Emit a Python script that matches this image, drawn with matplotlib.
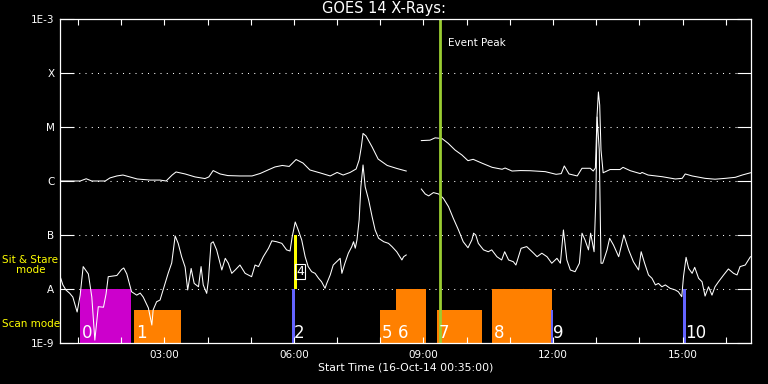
import numpy as np
import matplotlib
matplotlib.use("Agg")
import matplotlib.pyplot as plt
import matplotlib.transforms as mtransforms

# GOES 14 long channel (1-8 A), hours of day / W m^-2
long_t = [0.58, 1.05, 1.19, 1.32, 1.63, 1.74, 1.90, 2.04, 2.20, 2.37, 2.67, 2.90, 3.04, 3.18, 3.27,
          3.48, 3.71, 3.94, 4.03, 4.13, 4.29, 4.47, 4.75, 5.03, 5.22, 5.40, 5.56, 5.73, 5.89, 6.05,
          6.21, 6.37, 6.61, 6.84, 7.00, 7.14, 7.30, 7.44, 7.51, 7.56, 7.60, 7.67, 7.81, 7.95, 8.16,
          8.39, 8.60,
          8.95, 9.15, 9.27, 9.43, 9.57, 9.73, 9.89, 10.03, 10.15, 10.36, 10.59, 10.82, 10.89, 11.05,
          11.24, 11.47, 11.82, 12.07, 12.19, 12.26, 12.37, 12.56, 12.67, 12.86, 12.93, 12.98, 13.02,
          13.05, 13.08, 13.11, 13.16, 13.32, 13.55, 13.62, 13.79, 14.02, 14.06, 14.20, 14.53, 14.83,
          14.99, 15.06, 15.22, 15.52, 15.75, 15.99, 16.22, 16.38, 16.57]
long_f = [1.0e-6, 1.0e-6, 1.10e-6, 1.0e-6, 1.0e-6, 1.14e-6, 1.24e-6, 1.29e-6, 1.19e-6, 1.09e-6,
          1.04e-6, 1.04e-6, 1.0e-6, 1.29e-6, 1.47e-6, 1.35e-6, 1.19e-6, 1.11e-6, 1.19e-6, 1.56e-6,
          1.35e-6, 1.26e-6, 1.24e-6, 1.24e-6, 1.38e-6, 1.60e-6, 1.82e-6, 1.94e-6, 1.86e-6, 2.5e-6,
          2.15e-6, 1.60e-6, 1.41e-6, 1.24e-6, 1.44e-6, 1.29e-6, 1.44e-6, 1.67e-6, 2.45e-6, 4.27e-6,
          7.6e-6, 6.8e-6, 4.27e-6, 2.55e-6, 1.94e-6, 1.70e-6, 1.53e-6,
          5.6e-6, 5.7e-6, 6.3e-6, 6.1e-6, 5.0e-6, 3.75e-6, 3.03e-6, 2.38e-6, 2.52e-6, 2.13e-6,
          1.79e-6, 1.65e-6, 1.74e-6, 1.53e-6, 1.56e-6, 1.55e-6, 1.49e-6, 1.33e-6, 1.37e-6, 1.9e-6,
          1.35e-6, 1.24e-6, 1.72e-6, 1.72e-6, 1.53e-6, 1.74e-6, 1.67e-5, 4.45e-5, 2.55e-5, 3.75e-6,
          1.42e-6, 1.63e-6, 1.63e-6, 1.79e-6, 1.55e-6, 1.37e-6, 1.44e-6, 1.29e-6, 1.2e-6, 1.09e-6,
          1.12e-6, 1.35e-6, 1.24e-6, 1.12e-6, 1.08e-6, 1.12e-6, 1.17e-6, 1.29e-6, 1.42e-6]

# GOES 14 short channel (0.5-4 A)
short_t = [0.60, 0.65, 0.72, 0.81, 0.88, 0.98, 1.05, 1.12, 1.24, 1.32, 1.39, 1.47, 1.59, 1.65, 1.70,
           1.90, 2.01, 2.06, 2.13, 2.24, 2.36, 2.44, 2.51, 2.63, 2.71, 2.74, 2.82, 2.90, 3.02, 3.09,
           3.17, 3.25, 3.32, 3.40, 3.48, 3.54, 3.62, 3.69, 3.79, 3.85, 3.90, 3.98, 4.02, 4.08, 4.13,
           4.21, 4.29, 4.33, 4.41, 4.48, 4.56, 4.64, 4.75, 4.87, 5.02, 5.10, 5.18, 5.29, 5.41, 5.49,
           5.60, 5.72, 5.83, 5.91, 5.96, 6.03, 6.10, 6.18, 6.26, 6.33, 6.41, 6.49, 6.57, 6.64, 6.72,
           6.76, 6.84, 6.91, 6.99, 7.07, 7.11, 7.18, 7.26, 7.34, 7.38, 7.42, 7.46, 7.51, 7.55, 7.60,
           7.65, 7.73, 7.81, 7.88, 7.96, 8.08, 8.19, 8.27, 8.38, 8.50, 8.54, 8.60,
           8.95, 9.04, 9.12, 9.23, 9.35, 9.46, 9.58, 9.69, 9.81, 9.92, 10.03, 10.12, 10.16, 10.21,
           10.27, 10.39, 10.50, 10.58, 10.70, 10.81, 10.88, 10.97, 11.08, 11.14, 11.20, 11.26, 11.39,
           11.55, 11.63, 11.74, 11.86, 11.97, 12.09, 12.17, 12.24, 12.32, 12.40, 12.51, 12.61, 12.67,
           12.74, 12.82, 12.87, 12.95, 12.99, 13.02, 13.07, 13.11, 13.15, 13.25, 13.31, 13.40, 13.52,
           13.64, 13.75, 13.86, 13.98, 14.04, 14.12, 14.21, 14.29, 14.37, 14.44, 14.52, 14.60, 14.71,
           14.83, 14.90, 14.98, 15.02, 15.08, 15.14, 15.22, 15.28, 15.37, 15.45, 15.52, 15.60, 15.68,
           15.75, 15.83, 15.95, 16.06, 16.18, 16.26, 16.33, 16.45, 16.57]
short_f = [1.58e-8, 1.19e-8, 9.6e-9, 8.3e-9, 7.1e-9, 3.75e-9, 7.7e-9, 2.6e-8, 1.9e-8, 7.1e-9,
           1.13e-9, 4.7e-9, 4.6e-9, 8.1e-9, 1.69e-8, 1.78e-8, 2.3e-8, 2.45e-8, 1.9e-8, 8.9e-9,
           7.7e-9, 8.4e-9, 7.1e-9, 4.45e-9, 2.15e-9, 4.1e-9, 5.8e-9, 6.25e-9, 1.29e-8, 1.98e-8,
           3.03e-8, 9.6e-8, 7.0e-8, 3.96e-8, 2.55e-8, 9.6e-9, 2.4e-8, 1.27e-8, 1.10e-8, 2.6e-8,
           1.19e-8, 8.3e-9, 1.47e-8, 7.0e-8, 7.5e-8, 5.3e-8, 3.0e-8, 2.25e-8, 3.7e-8, 3.0e-8,
           1.95e-8, 2.25e-8, 2.78e-8, 1.95e-8, 1.69e-8, 2.78e-8, 2.6e-8, 3.96e-8, 5.67e-8, 7.8e-8,
           7.5e-8, 7.0e-8, 5.3e-8, 5.05e-8, 9.3e-8, 1.74e-7, 1.24e-7, 8.1e-8, 3.96e-8, 2.6e-8,
           2.09e-8, 1.95e-8, 1.58e-8, 1.36e-8, 1.03e-8, 1.27e-8, 1.82e-8, 2.78e-8, 3.2e-8, 3.7e-8,
           1.95e-8, 3.0e-8, 4.6e-8, 6.1e-8, 7.5e-8, 5.7e-8, 8.1e-8, 1.9e-7, 7.8e-7, 1.98e-6,
           7.8e-7, 4.45e-7, 2.18e-7, 1.24e-7, 8.7e-8, 7.5e-8, 7.0e-8, 6.1e-8, 4.9e-8, 3.45e-8,
           3.96e-8, 4.27e-8,
           7.1e-7, 5.75e-7, 5.3e-7, 6.1e-7, 5.75e-7, 4.78e-7, 3.34e-7, 2.04e-7, 1.24e-7, 7.5e-8,
           5.8e-8, 8.1e-8, 1.08e-7, 1.0e-7, 7.0e-8, 5.3e-8, 4.9e-8, 5.3e-8, 3.96e-8, 3.45e-8,
           4.9e-8, 3.45e-8, 3.2e-8, 2.78e-8, 3.96e-8, 5.67e-8, 6.1e-8, 4.6e-8, 3.96e-8, 4.6e-8,
           3.96e-8, 3.0e-8, 3.7e-8, 3.0e-8, 1.24e-7, 3.45e-8, 2.25e-8, 2.09e-8, 3.0e-8, 1.08e-7,
           8.1e-8, 5.3e-8, 1.08e-7, 4.9e-8, 4.45e-7, 1.53e-5, 3.75e-6, 3.0e-8, 3.0e-8, 5.3e-8,
           8.7e-8, 6.5e-8, 3.96e-8, 1.0e-7, 5.3e-8, 3.2e-8, 2.25e-8, 4.9e-8, 3.0e-8, 1.82e-8,
           1.58e-8, 1.19e-8, 1.27e-8, 1.10e-8, 1.19e-8, 1.03e-8, 9.6e-9, 8.9e-9, 7.2e-9, 1.69e-8,
           3.86e-8, 2.4e-8, 1.95e-8, 2.52e-8, 1.58e-8, 1.36e-8, 7.4e-9, 1.10e-8, 7.7e-9, 1.10e-8,
           1.36e-8, 1.82e-8, 2.35e-8, 1.95e-8, 1.82e-8, 2.6e-8, 2.78e-8, 3.96e-8]
data_gap = (8.62, 8.93)  # no GOES data in between

# IRIS observing modes (hours of day)
mode_labels = ['0', '1', '2', '4', '5', '6', '7', '8', '9', '10']
mode_start = [1.05, 2.30, 5.96, 6.01, 7.99, 8.37, 9.32, 10.59, 11.96, 15.02]
mode_end = [2.23, 3.39, 6.03, 6.06, 8.40, 9.06, 10.36, 11.98, 12.01, 15.08]
mode_low = [1e-9, 1e-9, 1e-9, 1e-8, 1e-9, 1e-9, 1e-9, 1e-9, 1e-9, 1e-9]
mode_high = [1e-8, 4.1e-9, 1e-8, 1e-7, 4.1e-9, 1e-8, 4.1e-9, 1e-8, 4.1e-9, 1e-8]
mode_color = ['#cc00cc', '#ff8000', '#6464ff', '#ffff00', '#ff8000', '#ff8000', '#ff8000',
              '#ff8000', '#6464ff', '#6464ff']

event_peak = 9.38
x_start, x_end = 35 / 60, 16 + 35 / 60
level_vals = [1e-9, 1e-8, 1e-7, 1e-6, 1e-5, 1e-4, 1e-3]
level_names = ['1E-9', 'A', 'B', 'C', 'M', 'X', '1E-3']
hour_labels = {3: '03:00', 6: '06:00', 9: '09:00', 12: '12:00', 15: '15:00'}


def with_gap(t, f):
    t = np.asarray(t, float); f = np.asarray(f, float)
    i = np.searchsorted(t, data_gap[0], side='right')
    return np.insert(t, i, np.nan), np.insert(f, i, np.nan)


plt.rcParams['font.family'] = ['DejaVu Sans']
fig = plt.figure(figsize=(7.68, 3.84), dpi=100, facecolor='black')
ax = fig.add_axes([60 / 768, 41 / 384, 691 / 768, 324 / 384], facecolor='black')
ax.set_yscale('log')
ax.set_xlim(x_start, x_end); ax.set_ylim(1e-9, 1e-3)

for lv in level_vals[1:-1]:
    ax.axhline(lv, color='white', lw=0.75, ls=(0, (1, 5)), zorder=0.5)

for s, e, lo, hi, c in zip(mode_start, mode_end, mode_low, mode_high, mode_color):
    ax.bar(s, hi - lo, width=e - s, bottom=lo, align='edge', color=c, lw=0, zorder=1)

for lab, s, lo in zip(mode_labels, mode_start, mode_low):
    off = mtransforms.offset_copy(ax.transData, fig=fig, x=1.2, y=0, units='points')
    if lo > 1e-9:
        ax.text(s, 2.1e-8, lab, transform=off, color='white', fontsize=9, ha='left', va='center',
                bbox=dict(boxstyle='square,pad=0.05', fc='none', ec='white', lw=0.8), zorder=3)
    else:
        ax.text(s, 1.55e-9, lab, transform=off, color='white', fontsize=12, ha='left', va='center', zorder=3)

lt, lf = with_gap(long_t, long_f)
st, sf = with_gap(short_t, short_f)
ax.plot(lt, lf, color='white', lw=0.75, zorder=2)
ax.plot(st, sf, color='white', lw=0.75, zorder=2)

ax.axvline(event_peak, color='#9acd32', lw=2, zorder=2.2)
ax.text(event_peak, 3.6e-4, 'Event Peak', color='white', fontsize=7.5, va='center',
        transform=mtransforms.offset_copy(ax.transData, fig=fig, x=6, y=0, units='points'))

ax.set_yticks(level_vals, level_names)
ax.yaxis.set_minor_locator(matplotlib.ticker.NullLocator())
ax.tick_params(axis='y', which='major', direction='in', length=10, width=0.8, color='white',
               labelcolor='white', labelsize=7.5, right=True, pad=4)
ax.set_xticks(list(hour_labels), list(hour_labels.values()))
ax.set_xticks(range(1, 17), minor=True)
ax.tick_params(axis='x', which='both', direction='in', length=4, width=0.8, color='white',
               labelcolor='white', labelsize=7.5, top=True, pad=5)
for sp in ax.spines.values():
    sp.set_color('white'); sp.set_linewidth(0.9)

ax.set_xlabel('Start Time (16-Oct-14 00:35:00)', color='white', fontsize=7.8, labelpad=2)
fig.text(0.5, 0.977, 'GOES 14 X-Rays:', color='white', fontsize=10.5, ha='center', va='center')
fig.text(0.003, 1 - 265 / 384, 'Sit & Stare\nmode', color='yellow', fontsize=7.5, ha='left',
         va='center', multialignment='center', linespacing=1.0)
fig.text(0.003, 1 - 324 / 384, 'Scan mode', color='yellow', fontsize=7.5, ha='left', va='center')

fig.savefig('out.png', dpi=100, facecolor='black')
